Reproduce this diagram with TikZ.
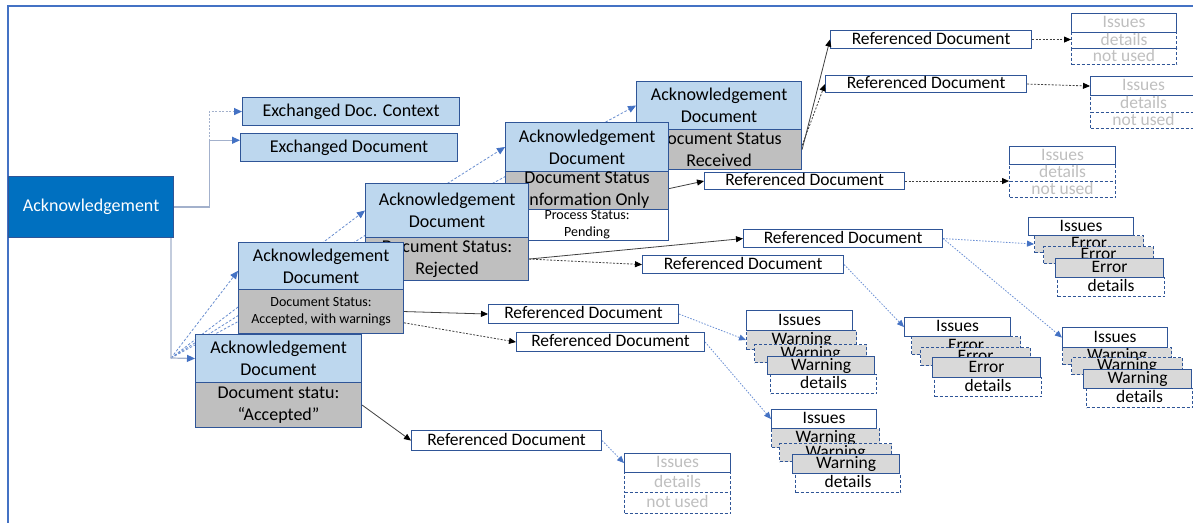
\documentclass[tikz,border=0pt]{standalone}
\usepackage{fontspec}
\setmainfont{Carlito}
\usetikzlibrary{arrows.meta,calc}
\definecolor{bdr}{HTML}{2F5597}
\definecolor{lblue}{HTML}{BDD7EE}
\definecolor{sgray}{HTML}{BFBFBF}
\definecolor{wgray}{HTML}{D9D9D9}
\definecolor{mainblue}{HTML}{0070C0}
\definecolor{arrblue}{HTML}{4472C4}
\definecolor{lgline}{HTML}{A3B1CC}
\definecolor{ftext}{HTML}{BFBFBF}
\definecolor{cline}{HTML}{404040}
\definecolor{dotblue}{HTML}{6A8FD4}
\begin{document}
\begin{tikzpicture}[x=1bp,y=-1bp,
  bx/.style={anchor=north west, inner sep=0pt, line width=1.1bp, draw=bdr, font=\fontsize{18bp}{22bp}\selectfont},
  one/.style={text height=12.5bp, text depth=3bp},
  two/.style={align=center},
  small/.style={font=\fontsize{14bp}{17bp}\selectfont},
  refsz/.style={font=\fontsize{17.5bp}{20bp}\selectfont},
  lbx/.style={bx, fill=lblue},
  gbx/.style={bx, fill=sgray},
  wbx/.style={bx, fill=white},
  wgx/.style={bx, fill=wgray},
  dsh/.style={dash pattern=on 3bp off 2bp},
  faded/.style={text=ftext},
  gl/.style={draw=lgline, line width=1.2bp, -{Triangle[length=8bp,width=7bp,color=arrblue]}},
  fanline/.style={draw=arrblue!80, line width=0.8bp, dash pattern=on 2.5bp off 1.8bp, -{Triangle[length=8bp,width=7bp,color=arrblue]}},
  blk/.style={draw=cline, line width=0.8bp, -{Triangle[length=7bp,width=6bp,color=black]}},
  blkd/.style={blk, dash pattern=on 2bp off 1.5bp},
  bdot/.style={draw=dotblue, line width=0.8bp, dash pattern=on 1.5bp off 1.5bp, -{Triangle[length=7bp,width=6bp,color=arrblue]}}
]
\useasboundingbox (0,0) rectangle (1193,523);
\clip (0,0) rectangle (1193,523);
\fill[white] (0,0) rectangle (1193,523);
% frame
\draw[arrblue, line width=1.6bp] (8,530) -- (8,6) -- (1200,6);

% fan coordinate and fan lines (behind)
\coordinate (fan) at (171,358);
\node[lbx, minimum width=165bp, minimum height=48bp, draw=none, fill=none] (d5t) at (636,81) {};
\node[lbx, minimum width=163bp, minimum height=49bp, draw=none, fill=none] (d4t) at (505,122) {};
\node[lbx, minimum width=163bp, minimum height=54bp, draw=none, fill=none] (d3t) at (365,183) {};
\node[lbx, minimum width=165bp, minimum height=47bp, draw=none, fill=none] (d2t) at (238,242) {};
\draw[fanline] (fan) -- (d5t.west);
\draw[fanline] (fan) -- (d4t.west);
\draw[fanline] (fan) -- (d3t.west);
\draw[fanline] (fan) -- ($(d2t.north west)!0.6!(d2t.south west)$);

% main node
\node[bx, fill=mainblue, text=white, one, minimum width=165bp, minimum height=61bp] (ack) at (8,176) {Acknowledgement};
\node[lbx, one, minimum width=217bp, minimum height=28bp] (exctx) at (242,97) {Exchanged Doc. Context};
\node[lbx, one, minimum width=217bp, minimum height=28bp] (exdoc) at (240,133) {Exchanged Document};

% doc 5
\node[lbx, two, minimum width=165bp, minimum height=48bp] (d5t) at (636,81) {Acknowledgement\\Document};
\node[gbx, two, minimum width=165bp, minimum height=40bp] (d5s) at (636,129) {Document Status\\Received};
% doc 4
\node[wbx, two, small, minimum width=163bp, minimum height=31bp] (d4p) at (505,209) {Process Status:\\Pending};
\node[lbx, two, minimum width=163bp, minimum height=49bp] (d4t) at (505,122) {Acknowledgement\\Document};
\node[gbx, two, minimum width=163bp, minimum height=38bp] (d4s) at (505,171) {Document Status\\Information Only};
% doc 3
\node[lbx, two, minimum width=163bp, minimum height=54bp] (d3t) at (365,183) {Acknowledgement\\Document};
\node[gbx, two, minimum width=163bp, minimum height=43bp] (d3s) at (365,237) {Document Status:\\Rejected};
% doc 2
\node[lbx, two, minimum width=165bp, minimum height=47bp] (d2t) at (238,242) {Acknowledgement\\Document};
\node[gbx, two, small, minimum width=165bp, minimum height=44bp] (d2s) at (238,289) {Document Status:\\Accepted, with warnings};
% doc 1
\node[lbx, two, minimum width=166bp, minimum height=48bp] (d1t) at (195,334) {Acknowledgement\\Document};
\node[gbx, two, minimum width=166bp, minimum height=45bp] (d1s) at (195,382) {Document statu:\\“Accepted”};

% referenced documents
\node[wbx, one, refsz, minimum width=201bp, minimum height=18bp] (r5a) at (830,30) {Referenced Document};
\node[wbx, one, refsz, minimum width=201bp, minimum height=17bp] (r5b) at (825,75) {Referenced Document};
\node[wbx, one, refsz, minimum width=200bp, minimum height=17bp] (r4) at (704,172) {Referenced Document};
\node[wbx, one, refsz, minimum width=199bp, minimum height=18bp] (r3a) at (743,229) {Referenced Document};
\node[wbx, one, refsz, minimum width=201bp, minimum height=18bp] (r3b) at (642,255) {Referenced Document};
\node[wbx, one, refsz, minimum width=190bp, minimum height=19bp] (r2a) at (488,304) {Referenced Document};
\node[wbx, one, refsz, minimum width=188bp, minimum height=19bp] (r2b) at (516,332) {Referenced Document};
\node[wbx, one, refsz, minimum width=190bp, minimum height=20bp] (r1) at (411,430) {Referenced Document};

% unused issue groups
\node[wbx, one, refsz, faded, minimum width=105bp, minimum height=19bp] (g5ai) at (1071,13) {Issues};
\node[wbx, one, refsz, faded, dsh, minimum width=105bp, minimum height=16bp] (g5ad) at (1071,32) {details};
\node[wbx, one, refsz, faded, dsh, minimum width=105bp, minimum height=16bp] (g5an) at (1071,48) {not used};

\node[wbx, one, refsz, faded, minimum width=106bp, minimum height=19bp] (g5bi) at (1090,76) {Issues};
\node[wbx, one, refsz, faded, dsh, minimum width=106bp, minimum height=17bp] (g5bd) at (1090,95) {details};
\node[wbx, one, refsz, faded, dsh, minimum width=106bp, minimum height=16bp] (g5bn) at (1090,112) {not used};

\node[wbx, one, refsz, faded, minimum width=106bp, minimum height=18bp] (g4i) at (1009,146) {Issues};
\node[wbx, one, refsz, faded, dsh, minimum width=106bp, minimum height=17bp] (g4d) at (1009,164) {details};
\node[wbx, one, refsz, faded, dsh, minimum width=106bp, minimum height=16bp] (g4n) at (1009,181) {not used};

\node[wbx, one, refsz, faded, minimum width=106bp, minimum height=19bp] (g1i) at (624,453) {Issues};
\node[wbx, one, refsz, faded, dsh, minimum width=106bp, minimum height=20bp] (g1d) at (624,472) {details};
\node[wbx, one, refsz, faded, dsh, minimum width=106bp, minimum height=21bp] (g1n) at (624,492) {not used};

% warning group A
\node[wbx, one, refsz, minimum width=106bp, minimum height=20bp] (wai) at (746,310) {Issues};
\node[wgx, one, refsz, dsh, minimum width=110bp, minimum height=19bp] (wa1) at (746,330) {Warning};
\node[wgx, one, refsz, dsh, minimum width=112bp, minimum height=18bp] (wa2) at (754,344) {Warning};
\node[wgx, one, refsz, minimum width=107bp, minimum height=18bp] (wa3) at (767,356) {Warning};
\node[wbx, one, refsz, dsh, minimum width=106bp, minimum height=19bp] (wad) at (770,374) {details};

% warning group B
\node[wbx, one, refsz, minimum width=105bp, minimum height=19bp] (wbi) at (771,409) {Issues};
\node[wgx, one, refsz, dsh, minimum width=108bp, minimum height=19bp] (wb1) at (771,428) {Warning};
\node[wgx, one, refsz, dsh, minimum width=112bp, minimum height=18bp] (wb2) at (779,443) {Warning};
\node[wgx, one, refsz, minimum width=107bp, minimum height=19bp] (wb3) at (792,454) {Warning};
\node[wbx, one, refsz, dsh, minimum width=105bp, minimum height=19bp] (wbd) at (795,473) {details};

% error group A
\node[wbx, one, refsz, minimum width=106bp, minimum height=19bp] (eai) at (904,317) {Issues};
\node[wgx, one, refsz, dsh, minimum width=109bp, minimum height=18bp] (ea1) at (911,336) {Error};
\node[wgx, one, refsz, dsh, minimum width=110bp, minimum height=18bp] (ea2) at (920,347) {Error};
\node[wgx, one, refsz, minimum width=108bp, minimum height=20bp] (ea3) at (932,357) {Error};
\node[wbx, one, refsz, dsh, minimum width=107bp, minimum height=19bp] (ead) at (934,377) {details};

% error group B
\node[wbx, one, refsz, minimum width=105bp, minimum height=18bp] (ebi) at (1028,217) {Issues};
\node[wgx, one, refsz, dsh, minimum width=109bp, minimum height=17bp] (eb1) at (1034,235) {Error};
\node[wgx, one, refsz, dsh, minimum width=110bp, minimum height=17bp] (eb2) at (1043,246) {Error};
\node[wgx, one, refsz, minimum width=108bp, minimum height=19bp] (eb3) at (1055,258) {Error};
\node[wbx, one, refsz, dsh, minimum width=107bp, minimum height=19bp] (ebd) at (1057,277) {details};

% warning group C
\node[wbx, one, refsz, minimum width=105bp, minimum height=20bp] (wci) at (1062,327) {Issues};
\node[wgx, one, refsz, dsh, minimum width=109bp, minimum height=17bp] (wc1) at (1062,347) {Warning};
\node[wgx, one, refsz, dsh, minimum width=111bp, minimum height=17bp] (wc2) at (1071,357) {Warning};
\node[wgx, one, refsz, minimum width=108bp, minimum height=19bp] (wc3) at (1083,369) {Warning};
\node[wbx, one, refsz, dsh, minimum width=106bp, minimum height=19bp] (wcd) at (1086,388) {details};

% connectors from main node
\draw[gl, dash pattern=on 2bp off 1.5bp] (ack.east) -- ++(35,0) |- (exctx.west);
\draw[gl] (ack.east) -- ++(35,0) |- ($(exdoc.north west)!0.25!(exdoc.south west)$);
\draw[gl] (fan |- ack.south) -- (fan) -- (d1t.west);

% status -> referenced documents
\draw[blk] (d1s.east) -- (r1.west);
\draw[blk] (d2s.east) -- (r2a.west);
\draw[blkd] ($(d2s.north east)!0.75!(d2s.south east)$) -- (r2b.west);
\draw[blk] (d3s.east) -- (r3a.west);
\draw[blkd] (d3s.east) -- (r3b.west);
\draw[blk] ($(d4s.north east)!0.45!(d4s.south east)$) -- (r4.west);
\draw[blk] (d5s.east) -- (r5a.west);
\draw[blkd] ($(d5s.north east)!0.4!(d5s.south east)$) -- (r5b.west);

% referenced documents -> issues
\draw[blkd] (r5a.east) -- (r5a.east -| g5ai.west);
\draw[blkd] (r5b.east) -- (g5bi.west);
\draw[blkd] (r4.east) -- (r4.east -| g4i.west);
\draw[bdot] (r3a.east) -- (eb1.west);
\draw[bdot] (r3a.east) -- (wci.west);
\draw[bdot] (r3b.east) -- (eai.west);
\draw[bdot] (r2a.east) -- (wa1.west);
\draw[bdot] (r2b.east) -- (wbi.west);
\draw[bdot] (r1.east) -- (g1i.west);
\end{tikzpicture}
\end{document}
